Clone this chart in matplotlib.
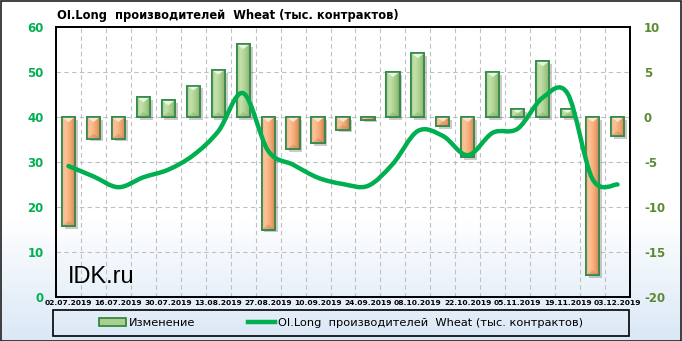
import numpy as np
import matplotlib
matplotlib.use('Agg')
import matplotlib.pyplot as plt
from matplotlib.path import Path
from matplotlib.patches import PathPatch, Rectangle, Patch, Polygon
from matplotlib.lines import Line2D
import matplotlib.patheffects as pe
from matplotlib.colors import LinearSegmentedColormap, to_rgb

# ---------------- data ----------------
dates = ['02.07.2019', '09.07.2019', '16.07.2019', '23.07.2019', '30.07.2019',
         '06.08.2019', '13.08.2019', '20.08.2019', '27.08.2019', '03.09.2019',
         '10.09.2019', '17.09.2019', '24.09.2019', '01.10.2019', '08.10.2019',
         '15.10.2019', '22.10.2019', '29.10.2019', '05.11.2019', '12.11.2019',
         '19.11.2019', '26.11.2019', '03.12.2019']
oi_long = [29.1, 26.8, 24.4, 26.6, 28.3, 31.5, 36.8, 45.3, 32.5, 29.4, 26.5, 25.1,
           24.7, 29.6, 36.9, 35.8, 31.5, 36.5, 37.4, 44.3, 45.2, 26.2, 25.0]
change = [-12.1, -2.4, -2.4, 2.2, 1.85, 3.5, 5.25, 8.1, -12.5, -3.6, -2.9, -1.4,
          -0.3, 5.0, 7.1, -1.0, -4.45, 5.0, 0.9, 6.2, 0.9, -17.6, -2.1]
left_ticks = [0, 10, 20, 30, 40, 50, 60]
right_ticks = [-20, -15, -10, -5, 0, 5, 10]
title = 'OI.Long  производителей  Wheat (тыс. контрактов)'
legend_bar = 'Изменение'
legend_line = 'OI.Long  производителей  Wheat (тыс. контрактов)'
watermark = 'IDK.ru'

W, H = 682, 341
fig = plt.figure(figsize=(W / 100, H / 100), dpi=100)

# background gradient (white -> light blue at bottom)
bg = fig.add_axes([0, 0, 1, 1], zorder=-10)
bg.set_axis_off()
t = np.linspace(0, 1, 341)[:, None]
frac = np.clip((0.36 - t) / 0.36, 0, 1)
c_top = np.array(to_rgb('#FFFFFF'))
c_bot = np.array(to_rgb('#DAE8F6'))
img = c_top[None, None, :] * (1 - frac[..., None]) + c_bot[None, None, :] * frac[..., None]
img = np.repeat(img, 4, axis=1)
bg.imshow(img, origin='lower', aspect='auto', extent=(0, 1, 0, 1))
bg.set_xlim(0, 1); bg.set_ylim(0, 1)

pos = [56 / W, (H - 297) / H, (630 - 56) / W, (297 - 27) / H]
ax = fig.add_axes(pos)
ax2 = ax.twinx()
ax.set_zorder(3)
ax2.set_zorder(2)
ax.patch.set_visible(False)
ax2.patch.set_visible(False)

n = len(dates)
x = np.arange(n)

ax.set_xlim(-0.5, n - 0.5)
ax.set_ylim(left_ticks[0], left_ticks[-1])
ax2.set_ylim(right_ticks[0], right_ticks[-1])

# grid
for k in range(n - 1):
    ax2.axvline(k + 0.5, color='#C0C0C0', lw=0.8, ls=(0, (4, 3)), zorder=0)
for v in right_ticks[1:-1]:
    ax2.axhline(v, color='#C0C0C0', lw=0.8, ls=(0, (4, 3)), zorder=0)

# bars
pos_face, neg_face = '#B3D698', '#F6B07F'
edge = '#2F8A4A'
colors = [pos_face if v >= 0 else neg_face for v in change]
bars = ax2.bar(x, change, width=0.53, color=colors, edgecolor=edge, linewidth=1.2, zorder=2)
for b in bars:
    b.set_path_effects([pe.SimplePatchShadow(offset=(2, -2), alpha=0.3, shadow_rgbFace='#555555'), pe.Normal()])

cm_pos = LinearSegmentedColormap.from_list('p', [(0, '#A6CD8A'), (0.25, '#C6E2AF'), (0.6, '#ABD18F'),
                                                  (0.85, '#93BC76'), (1, '#6A9454')])
cm_neg = LinearSegmentedColormap.from_list('n', [(0, '#F6B488'), (0.25, '#FBC39A'), (0.6, '#F5A974'),
                                                  (0.85, '#DE915C'), (1, '#AE7047')])
units_per_px = (right_ticks[-1] - right_ticks[0]) / 270.0
for b, v in zip(bars, change):
    x0, w = b.get_x(), b.get_width()
    y0, h = b.get_y(), b.get_height()
    lo, hi = min(y0, y0 + h), max(y0, y0 + h)
    if hi - lo < 1e-6:
        continue
    grad = np.linspace(0, 1, 64)[None, :]
    im = ax2.imshow(grad, cmap=cm_pos if v >= 0 else cm_neg, aspect='auto',
                    extent=(x0, x0 + w, lo, hi), zorder=2.1, interpolation='bilinear')
    im.set_clip_path(b)
    d = min(5 * units_per_px, (hi - lo) / 2)
    light = '#EEF8E6' if v >= 0 else '#FFE6D2'
    dark = '#6E9A58' if v >= 0 else '#B2714A'
    tri = Polygon([[x0, hi], [x0 + w, hi], [x0 + w / 2, hi - d]], closed=True,
                  facecolor=light, edgecolor='none', zorder=2.2, alpha=0.95)
    ax2.add_patch(tri)
    tri2 = Polygon([[x0, lo], [x0 + w, lo], [x0 + w / 2, lo + d]], closed=True,
                   facecolor=dark, edgecolor='none', zorder=2.2, alpha=0.3)
    ax2.add_patch(tri2)
    ax2.add_patch(Rectangle((x0, y0), w, h, fill=False, edgecolor=edge, lw=1.2, zorder=2.3))
ax2.set_xlim(-0.5, n - 0.5)
ax2.set_ylim(right_ticks[0], right_ticks[-1])

# smoothed line
pts = np.column_stack([x, oi_long]).astype(float)
verts = [pts[0]]
codes = [Path.MOVETO]
for i in range(n - 1):
    p0 = pts[i - 1] if i > 0 else pts[i]
    p1 = pts[i]
    p2 = pts[i + 1]
    p3 = pts[i + 2] if i + 2 < n else pts[i + 1]
    verts += [p1 + (p2 - p0) / 6.0, p2 - (p3 - p1) / 6.0, p2]
    codes += [Path.CURVE4] * 3
ax.add_patch(PathPatch(Path(verts, codes), fill=False, edgecolor='#00B050', lw=3.2,
                       capstyle='round', joinstyle='round', zorder=5))

# axes styling
ax.set_yticks(left_ticks)
ax.set_yticklabels([str(v) for v in left_ticks], fontsize=8.5, fontweight='bold', color='#00B050')
ax2.set_yticks(right_ticks)
ax2.set_yticklabels([str(v) for v in right_ticks], fontsize=8.5, fontweight='bold', color='#5B8A32')
ax.tick_params(axis='y', length=0, pad=9)
ax2.tick_params(axis='y', length=0, pad=10)
ax.set_xticks(x[::2])
ax.set_xticklabels(dates[::2], fontsize=5.4, fontweight='bold', color='black')
ax.tick_params(axis='x', length=0, pad=2.5)
ax2.tick_params(axis='x', length=0)
for a in (ax, ax2):
    for s in a.spines.values():
        s.set_color('black')
        s.set_linewidth(1.3)

ax.text((68 - 56) / 574, (297 - 283) / 270, watermark, transform=ax.transAxes,
        fontsize=17, family='Liberation Sans', color='black', va='baseline', ha='left', zorder=6)

fig.text(57 / W, 1 - 15 / H, title, fontsize=8.3, fontweight='bold', va='center', ha='left')

# legend
handles = [Patch(facecolor='#A9D18E', edgecolor='#2F7D3A', lw=1.2),
           Line2D([], [], color='#00B050', lw=3.2)]
fig.legend(handles, [legend_bar, legend_line], loc='center',
           bbox_to_anchor=((53 + 629) / 2 / W, 1 - 323 / H), ncol=2, frameon=False,
           fontsize=8.2, columnspacing=4.6, handlelength=2.4, handletextpad=0.25,
           handleheight=0.6)
fig.add_artist(Rectangle((53 / W, (H - 336) / H), (629 - 53) / W, 26 / H, transform=fig.transFigure,
                         fill=False, edgecolor='black', lw=1.2))
fig.add_artist(Rectangle((0.5 / W, 0.5 / H), 1 - 1.5 / W, 1 - 1.5 / H, transform=fig.transFigure,
                         fill=False, edgecolor='#202020', lw=1.2))

fig.savefig('out.png', dpi=100)
